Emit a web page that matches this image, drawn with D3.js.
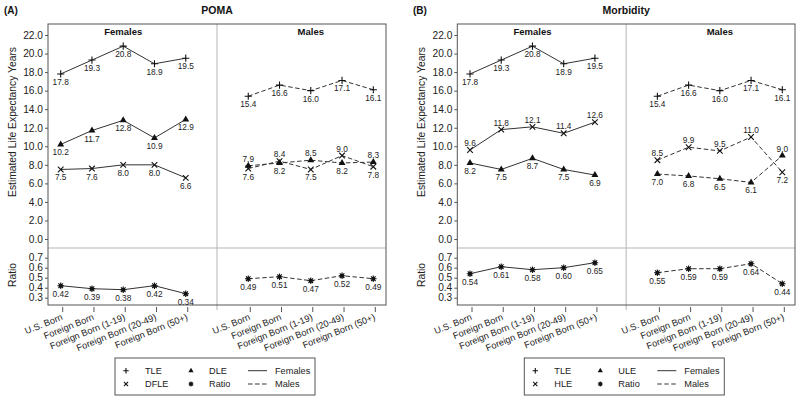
<!DOCTYPE html>
<html>
<head>
<meta charset="utf-8">
<script src="https://cdn.jsdelivr.net/npm/d3@7"></script>
<style>
  html, body { margin: 0; padding: 0; background: #fff; }
  svg { display: block; font-family: "Liberation Sans", Arial, sans-serif; }
</style>
</head>
<body>
<svg id="chart" width="800" height="401"></svg>
<script>
// ---------- DATA ----------
const categories = ["U.S. Born", "Foreign Born", "Foreign Born (1-19)", "Foreign Born (20-49)", "Foreign Born (50+)"];
const sexes = ["Females", "Males"];
const leTicks = [0, 2, 4, 6, 8, 10, 12, 14, 16, 18, 20, 22];
const ratioTicks = [0.3, 0.4, 0.5, 0.6, 0.7];

const tleFemales = [17.8, 19.3, 20.8, 18.9, 19.5];
const tleMales   = [15.4, 16.6, 16.0, 17.1, 16.1];

// Panel A: POMA
const dleFemales   = [10.2, 11.7, 12.8, 10.9, 12.9];
const dleMales     = [7.9, 8.2, 8.5, 8.2, 8.3];
const dfleFemales  = [7.5, 7.6, 8.0, 8.0, 6.6];
const dfleMales    = [7.6, 8.4, 7.5, 9.0, 7.8];
const ratioAFemales = [0.42, 0.39, 0.38, 0.42, 0.34];
const ratioAMales   = [0.49, 0.51, 0.47, 0.52, 0.49];

// Panel B: Morbidity
const uleFemales  = [8.2, 7.5, 8.7, 7.5, 6.9];
const uleMales    = [7.0, 6.8, 6.5, 6.1, 9.0];
const hleFemales  = [9.6, 11.8, 12.1, 11.4, 12.6];
const hleMales    = [8.5, 9.9, 9.5, 11.0, 7.2];
const ratioBFemales = [0.54, 0.61, 0.58, 0.60, 0.65];
const ratioBMales   = [0.55, 0.59, 0.59, 0.64, 0.44];

// label placement (U = above the marker, D = below)
const sideA = { dleF: "DDDDD", dfleF: "DDDDD", dleM: "UDUDU", dfleM: "DUDUD" };
const sideB = { hleF: "UUUUU", uleF: "DDDDD", hleM: "UUUUD", uleM: "DDDDU" };

// ---------- DRAW ----------
const svg = d3.select("#chart");

const panels = [
  { tag: "(A)", title: "POMA", left: 48, right: 386, tagX: 4,
    mid: ["DLE", "DFLE"], midSym: ["tri", "x"],
    series: [
      { sym: "plus", F: tleFemales, M: tleMales, sF: "DDDDD", sM: "DDDDD" },
      { sym: "tri", F: dleFemales, M: dleMales, sF: sideA.dleF, sM: sideA.dleM },
      { sym: "x", F: dfleFemales, M: dfleMales, sF: sideA.dfleF, sM: sideA.dfleM }
    ],
    ratio: { F: ratioAFemales, M: ratioAMales } },
  { tag: "(B)", title: "Morbidity", left: 457.3, right: 795, tagX: 413,
    mid: ["ULE", "HLE"], midSym: ["tri", "x"],
    series: [
      { sym: "plus", F: tleFemales, M: tleMales, sF: "DDDDD", sM: "DDDDD" },
      { sym: "tri", F: uleFemales, M: uleMales, sF: sideB.uleF, sM: sideB.uleM },
      { sym: "x", F: hleFemales, M: hleMales, sF: sideB.hleF, sM: sideB.hleM }
    ],
    ratio: { F: ratioBFemales, M: ratioBMales } }
];

const plotTop = 24, sepY = 248, plotBottom = 305;
const yLE = d3.scaleLinear().domain([-0.97, 23.19]).range([sepY, plotTop]);
const yR = d3.scaleLinear().domain([0.227, 0.797]).range([plotBottom, sepY]);

function symPath(kind, k) {
  if (kind === "plus") return `M${-3.6*k},0H${3.6*k}M0,${-3.6*k}V${3.6*k}`;
  if (kind === "x") return `M${-2.8*k},${-2.8*k}L${2.8*k},${2.8*k}M${-2.8*k},${2.8*k}L${2.8*k},${-2.8*k}`;
  if (kind === "tri") return d3.symbol(d3.symbolTriangle, 21 * k * k)();
  if (kind === "star") return `M${-3.3*k},0H${3.3*k}M0,${-3.3*k}V${3.3*k}M${-2.3*k},${-2.3*k}L${2.3*k},${2.3*k}M${-2.3*k},${2.3*k}L${2.3*k},${-2.3*k}`;
  return "";
}
function drawMarker(g, kind, x, y, k = 1) {
  const m = g.append("g").attr("transform", `translate(${x},${y})`);
  if (kind === "tri") {
    m.append("path").attr("d", symPath("tri", k)).attr("fill", "#111");
  } else if (kind === "star") {
    m.append("circle").attr("r", 1.9 * k).attr("fill", "#111");
    m.append("path").attr("d", symPath("star", k)).attr("stroke", "#111").attr("stroke-width", 1.1).attr("fill", "none");
  } else {
    m.append("path").attr("d", symPath(kind, k)).attr("stroke", "#111").attr("stroke-width", 1.1).attr("fill", "none");
  }
}

panels.forEach(p => {
  const g = svg.append("g");
  const slots = d3.range(11);
  const x = d3.scalePoint().domain(slots).range([p.left + 12.7, p.right - 12.7]);
  const xF = i => x(i);
  const xM = i => x(i + 6);
  const divX = x(5);

  // titles
  g.append("text").attr("x", p.tagX).attr("y", 14).attr("font-size", 10).attr("font-weight", "bold").attr("fill", "#111").text(p.tag);
  g.append("text").attr("x", divX).attr("y", 14).attr("text-anchor", "middle").attr("font-size", 10.5).attr("font-weight", "bold").attr("fill", "#111").text(p.title);

  // frame
  g.append("line").attr("x1", divX).attr("x2", divX).attr("y1", plotTop).attr("y2", plotBottom + 5).attr("stroke", "#b5b5b5").attr("stroke-width", 1);
  g.append("line").attr("x1", p.left).attr("x2", p.right).attr("y1", sepY).attr("y2", sepY).attr("stroke", "#b5b5b5").attr("stroke-width", 1);
  g.append("rect").attr("x", p.left).attr("y", plotTop).attr("width", p.right - p.left).attr("height", plotBottom - plotTop)
    .attr("fill", "none").attr("stroke", "#555").attr("stroke-width", 1);

  // sex headers
  g.append("text").attr("x", xF(2)).attr("y", 34.5).attr("text-anchor", "middle").attr("font-size", 9.5).attr("font-weight", "bold").attr("fill", "#111").text(sexes[0]);
  g.append("text").attr("x", xM(2)).attr("y", 34.5).attr("text-anchor", "middle").attr("font-size", 9.5).attr("font-weight", "bold").attr("fill", "#111").text(sexes[1]);

  // y axes
  const axL = d3.axisLeft(yLE).tickValues(leTicks).tickFormat(d3.format(".1f")).tickSize(3).tickPadding(2);
  const ga = g.append("g").attr("transform", `translate(${p.left},0)`).call(axL);
  const axR = d3.axisLeft(yR).tickValues(ratioTicks).tickFormat(d3.format(".1f")).tickSize(3).tickPadding(2);
  const gr = g.append("g").attr("transform", `translate(${p.left},0)`).call(axR);
  [ga, gr].forEach(a => {
    a.select(".domain").remove();
    a.selectAll("line").attr("stroke", "#555");
    a.selectAll("text").attr("font-size", 10.2).attr("fill", "#222").attr("font-family", "Liberation Sans, Arial, sans-serif");
  });

  // axis titles
  g.append("text").attr("transform", `translate(${p.left - 32},122) rotate(-90)`).attr("text-anchor", "middle")
    .attr("font-size", 10.3).attr("fill", "#222").text("Estimated Life Expectancy Years");
  g.append("text").attr("transform", `translate(${p.left - 32},275) rotate(-90)`).attr("text-anchor", "middle")
    .attr("font-size", 10.3).attr("fill", "#222").text("Ratio");

  // x ticks & labels
  const allX = categories.map((c, i) => ({ c, x: xF(i) })).concat(categories.map((c, i) => ({ c, x: xM(i) })));
  allX.forEach(d => {
    g.append("line").attr("x1", d.x + 2).attr("x2", d.x + 2).attr("y1", plotBottom + 2).attr("y2", plotBottom + 7).attr("stroke", "#555");
    g.append("text").attr("transform", `translate(${d.x},${plotBottom + 8}) rotate(-22)`).attr("text-anchor", "end")
      .attr("dy", "0.75em").attr("font-size", 9.2).attr("fill", "#222").text(d.c);
  });

  // series lines
  const lineOf = (vals, xf, ys) => d3.line().x((d, i) => xf(i)).y(d => ys(d))(vals);
  const drawSeries = (vals, xf, ys, dashed, kind, sides, fmt) => {
    g.append("path").attr("d", lineOf(vals, xf, ys)).attr("fill", "none").attr("stroke", "#333").attr("stroke-width", 1)
      .attr("stroke-dasharray", dashed ? "4.5,2.5" : null);
    vals.forEach((v, i) => {
      drawMarker(g, kind, xf(i), ys(v));
      const up = sides[i] === "U";
      g.append("text").attr("x", xf(i)).attr("y", ys(v) + (up ? -4 : 11)).attr("text-anchor", "middle")
        .attr("font-size", 8.3).attr("fill", "#222").text(fmt(v));
    });
  };
  const f1 = d3.format(".1f"), f2 = d3.format(".2f");
  p.series.forEach(s => {
    drawSeries(s.F, xF, yLE, false, s.sym, s.sF, f1);
    drawSeries(s.M, xM, yLE, true, s.sym, s.sM, f1);
  });
  drawSeries(p.ratio.F, xF, yR, false, "star", "DDDDD", f2);
  drawSeries(p.ratio.M, xM, yR, true, "star", "DDDDD", f2);

  // legend
  const lx = p.left + 67, ly = 358;
  const lg = g.append("g").attr("transform", `translate(${lx},${ly})`);
  lg.append("rect").attr("width", 200).attr("height", 37).attr("fill", "#fff").attr("stroke", "#555").attr("stroke-width", 1);
  const rows = [12.7, 26];
  const leg = [
    { sym: "plus", t: "TLE", col: 0, row: 0 },
    { sym: p.midSym[1], t: p.mid[1], col: 0, row: 1 },
    { sym: "tri", t: p.mid[0], col: 1, row: 0 },
    { sym: "star", t: "Ratio", col: 1, row: 1 }
  ];
  const colSym = [11, 76], colTxt = [30, 94];
  leg.forEach(d => {
    drawMarker(lg, d.sym, colSym[d.col], rows[d.row], 0.75);
    lg.append("text").attr("x", colTxt[d.col]).attr("y", rows[d.row]).attr("dy", "0.35em").attr("font-size", 9.2).attr("fill", "#222").text(d.t);
  });
  sexes.forEach((s, i) => {
    lg.append("line").attr("x1", 133).attr("x2", 152).attr("y1", rows[i]).attr("y2", rows[i]).attr("stroke", "#333")
      .attr("stroke-dasharray", i ? "4.5,2.5" : null);
    lg.append("text").attr("x", 160).attr("y", rows[i]).attr("dy", "0.35em").attr("font-size", 9.2).attr("fill", "#222").text(s);
  });
});
</script>
</body>
</html>
